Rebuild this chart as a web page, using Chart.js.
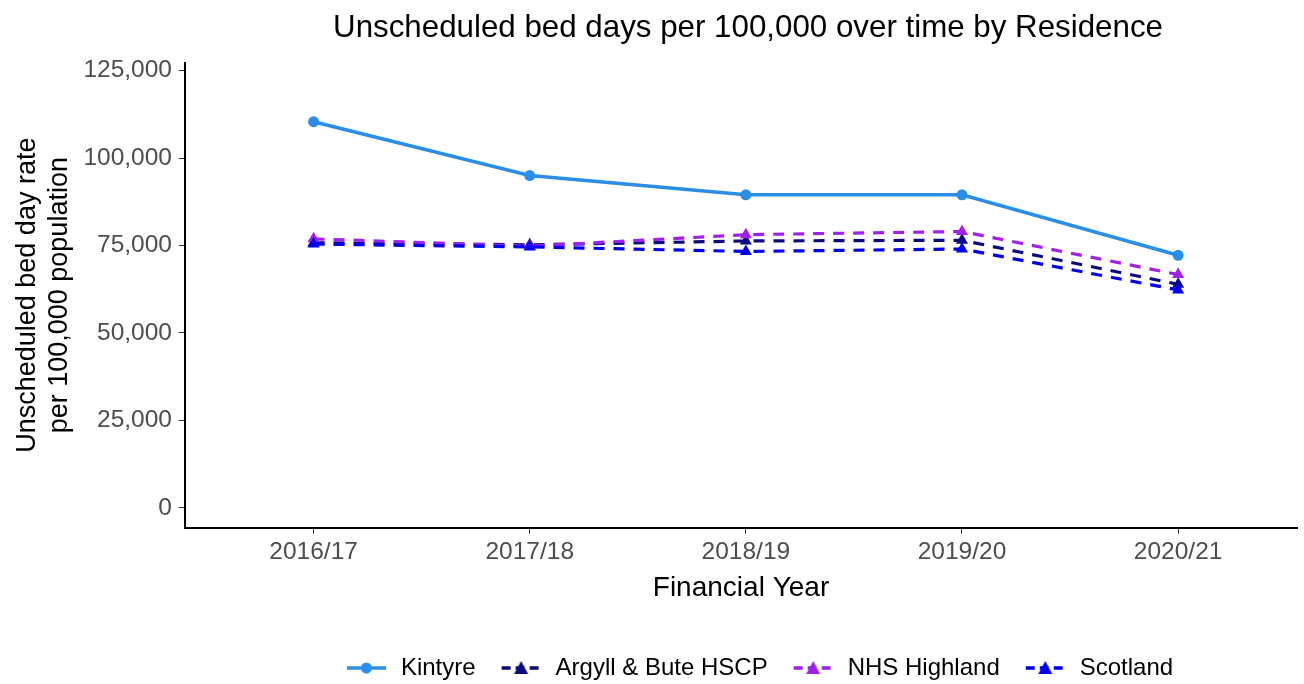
<!DOCTYPE html>
<html><head><meta charset="utf-8">
<script src="https://cdn.jsdelivr.net/npm/chart.js@4.4.1/dist/chart.umd.min.js"></script>
<style>html,body{margin:0;padding:0;background:#fff}#wrap{width:1304px;height:684px}</style>
</head><body><div id="wrap"><canvas id="c" width="1304" height="684"></canvas></div>
<script>
const years = ["2016/17","2017/18","2018/19","2019/20","2020/21"];
const kintyre = [110400, 95000, 89500, 89500, 72200];
const argyll = [75800, 75200, 76300, 76500, 63900];
const highland = [76900, 74800, 78100, 79000, 66700];
const scotland = [75400, 74600, 73300, 74000, 62300];
const yTicks = [0, 25000, 50000, 75000, 100000, 125000];

const FONT = "'Liberation Sans', Arial, sans-serif";
function toXY(arr){ return arr.map((v,i)=>({x:i,y:v})); }

const ICON_W = 68, ICON_PAD = 26;
function legendIcon(color, dashed, marker){
  const c = document.createElement('canvas'); c.width = ICON_W; c.height = 16;
  const g = c.getContext('2d');
  const x0 = ICON_PAD, x1 = ICON_W - 3, cx = (x0 + x1) / 2;
  g.strokeStyle = color; g.lineWidth = 3.4;
  if (dashed) g.setLineDash([9,5]);
  g.beginPath(); g.moveTo(x0,8); g.lineTo(x1,8); g.stroke();
  g.setLineDash([]); g.fillStyle = color;
  if (marker === 'circle'){ g.beginPath(); g.arc(cx,8,5.5,0,Math.PI*2); g.fill(); }
  else { g.beginPath(); g.moveTo(cx,1); g.lineTo(cx+7,14); g.lineTo(cx-7,14); g.closePath(); g.fill(); }
  return c;
}

const series = [
  {label:"Kintyre", data:kintyre, color:"#2a8ee6", dashed:false, marker:'circle'},
  {label:"Argyll & Bute HSCP", data:argyll, color:"#0a0a80", dashed:true, marker:'triangle'},
  {label:"NHS Highland", data:highland, color:"#a020f0", dashed:true, marker:'triangle'},
  {label:"Scotland", data:scotland, color:"#0000ee", dashed:true, marker:'triangle'}
];
const drawOrder = [3,2,1,0];
const datasets = series.map((s,idx)=>({
  label:s.label, data:toXY(s.data), borderColor:s.color, backgroundColor:s.color,
  borderWidth: s.dashed ? 3.2 : 3.6, borderDash: s.dashed ? [11,9] : [], pointStyle: s.marker,
  pointRadius: s.marker==='circle' ? 5.5 : 7, pointBorderWidth:0, pointBackgroundColor:s.color,
  tension:0, order: drawOrder[idx], fill:false
}));
const icons = series.map(s=>legendIcon(s.color, s.dashed, s.marker));

const shiftBlocks = {
  id:'shiftBlocks',
  afterLayout(chart){
    const L = chart.legend; if (L){ L.left += 97; L.right += 97; L.top += 6; L.bottom += 6; }
    const T = chart.titleBlock; if (T){ T.left += 98; T.right += 98; }
  }
};

new Chart(document.getElementById('c'), {
  type:'line',
  data:{datasets},
  plugins:[shiftBlocks],
  options:{
    responsive:false, animation:false,
    layout:{padding:{left:0,right:4,top:0,bottom:0}},
    plugins:{
      title:{display:true, text:"Unscheduled bed days per 100,000 over time by Residence",
        color:"#000", font:{family:FONT, size:31.3, weight:'normal'}, padding:{top:10,bottom:15}},
      legend:{position:'bottom', align:'center',
        labels:{usePointStyle:true, pointStyleWidth:ICON_W, boxHeight:16, color:'#000',
          font:{family:FONT, size:24}, padding:0,
          generateLabels:(chart)=>series.map((s,i)=>({text:s.label, pointStyle:icons[i], fillStyle:s.color, strokeStyle:s.color, lineWidth:0, hidden:false, datasetIndex:i, fontColor:'#000'}))
        }},
      tooltip:{enabled:false}
    },
    scales:{
      x:{type:'linear', min:-0.595, max:4.55,
        afterBuildTicks:(sc)=>{sc.ticks = years.map((_,i)=>({value:i}));},
        ticks:{callback:(v)=>years[v], color:'#4d4d4d', font:{family:FONT,size:24.5}, padding:4, maxRotation:0, autoSkip:false},
        grid:{drawOnChartArea:false, tickLength:6, tickColor:'#333', lineWidth:1},
        border:{color:'#000', width:2},
        title:{display:true, text:"Financial Year", color:'#000', font:{family:FONT,size:28,lineHeight:1.1}, padding:{top:2,bottom:46}}
      },
      y:{type:'linear', min:-5700, max:127300,
        afterBuildTicks:(sc)=>{sc.ticks = yTicks.map(v=>({value:v}));},
        afterFit:(sc)=>{sc.width = 185;},
        ticks:{callback:(v)=>v.toLocaleString('en-US'), color:'#4d4d4d', font:{family:FONT,size:24.5}, padding:7},
        grid:{drawOnChartArea:false, tickLength:6, tickColor:'#333', lineWidth:1},
        border:{color:'#000', width:2},
        title:{display:true, text:["Unscheduled bed day rate","per 100,000 population"], color:'#000', font:{family:FONT,size:27}, padding:{top:11,bottom:0}}
      }
    }
  }
});
</script></body></html>
